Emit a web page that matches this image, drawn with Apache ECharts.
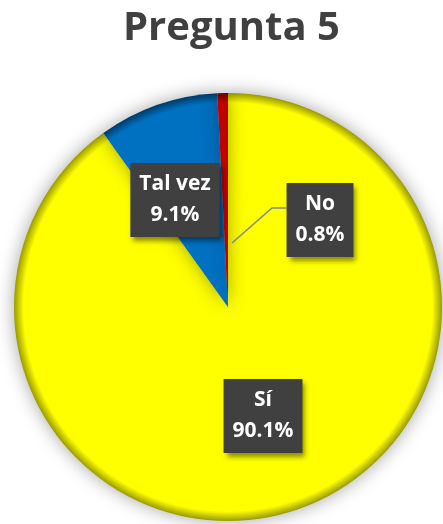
<!DOCTYPE html>
<html>
<head>
<meta charset="utf-8">
<script src="https://cdn.jsdelivr.net/npm/echarts@6/dist/echarts.min.js"></script>
<style>
  html, body { margin: 0; padding: 0; background: #fff; }
  #chart { width: 443px; height: 524px; }
</style>
</head>
<body>
<div id="chart"></div>
<script>
// datos
const categorias = ['Sí', 'Tal vez', 'No'];
const porcentajes = [90.1, 9.1, 0.8];
const colores = ['#FFFF00', '#0070C0', '#C00000'];

const cx = 228, cy = 307, radio = 214;

const myChart = echarts.init(document.getElementById('chart'));

// gradiente para simular el borde biselado
function bisel(c, oscuro) {
  return {
    type: 'radial', x: cx, y: cy, r: radio, global: true,
    colorStops: [
      { offset: 0, color: c },
      { offset: 0.955, color: c },
      { offset: 1, color: oscuro }
    ]
  };
}
const oscuros = ['#9a9a00', '#003a66', '#600000'];

const estiloEtiqueta = {
  show: true,
  formatter: p => p.name + '\n' + p.value.toFixed(1) + '%',
  fontFamily: 'Open Sans',
  fontWeight: 'bold',
  fontSize: 21,
  lineHeight: 31,
  color: '#fff',
  backgroundColor: '#404040',
  padding: [6, 9],
  shadowBlur: 5,
  shadowOffsetX: 3,
  shadowOffsetY: 4,
  shadowColor: 'rgba(0,0,0,0.45)'
};

const option = {
  title: {
    text: 'Pregunta 5',
    left: 118,
    top: 4,
    textStyle: { fontFamily: 'Open Sans', fontWeight: 'bold', fontSize: 40, color: '#404040' }
  },
  series: [
    {
      type: 'pie',
      center: [cx, cy],
      radius: radio,
      startAngle: 90,
      clockwise: true,
      animation: false,
      data: categorias.map((n, i) => ({
        name: n,
        value: porcentajes[i],
        itemStyle: { color: bisel(colores[i], oscuros[i]) },
        label: { show: i !== 2 }
      })),
      itemStyle: {
        shadowBlur: 18,
        shadowColor: 'rgba(0,0,0,0.35)',
        borderWidth: 0
      },
      label: Object.assign({ position: 'inside' }, estiloEtiqueta),
      labelLine: { show: false },
      labelLayout: function (p) {
        if (p.dataIndex === 0) return { x: 263, y: 416 };
        return { x: 175, y: 200 };
      }
    },
    {
      // capa transparente encima: solo la etiqueta "No" con su linea guia
      type: 'pie',
      z: 3,
      silent: true,
      center: [cx, cy],
      radius: radio,
      startAngle: 90,
      clockwise: true,
      animation: false,
      avoidLabelOverlap: false,
      itemStyle: { color: 'rgba(0,0,0,0)' },
      data: categorias.map((n, i) => ({
        name: n,
        value: porcentajes[i],
        label: { show: i === 2 },
        labelLine: { show: i === 2 }
      })),
      label: Object.assign({ position: 'outside', align: 'center' }, estiloEtiqueta),
      labelLine: {
        length: 10,
        length2: 10,
        lineStyle: { color: '#7f8694', width: 1.5 }
      },
      labelLayout: function () {
        return {
          x: 320, y: 220, align: 'center',
          labelLinePoints: [[232, 243], [272, 208], [286, 208]]
        };
      }
    }
  ]
};

myChart.setOption(option);
</script>
</body>
</html>
